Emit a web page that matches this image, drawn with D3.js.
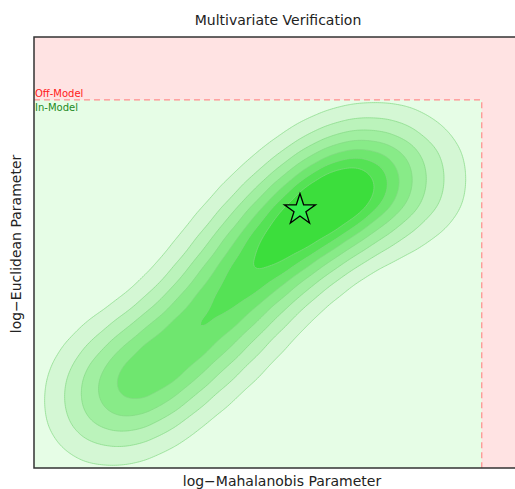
<!DOCTYPE html>
<html>
<head>
<meta charset="utf-8">
<script src="https://cdn.jsdelivr.net/npm/d3@7"></script>
<style>
  body { margin: 0; background: #fff; }
  text { font-family: "DejaVu Sans", Verdana, sans-serif; }
</style>
</head>
<body>
<svg id="chart" width="515" height="489"></svg>
<script>
// ridge samples: [logMahalanobis, logEuclidean, weight]
const ridgeX = [1.27, 1.68, 2.31, 2.93, 3.56, 4.07, 4.59, 5.11, 5.63, 6.15, 6.67, 7.19, 8.02];
const ridgeY = [1.35, 1.69, 2.16, 2.69, 3.32, 4.01, 4.71, 5.29, 5.80, 6.22, 6.57, 6.80, 6.68];
const ridgeW = [0.20, 0.75, 0.80, 0.80, 0.80, 0.85, 0.90, 0.95, 1.00, 1.00, 0.95, 0.80, 0.35];
const levelFractions = [0.07, 0.17, 0.29, 0.42, 0.55, 0.67, 0.79];
const limitX = 9.31, limitY = 8.54;   // in-model bounds
const starPoint = [5.53, 5.99];

const margin = { top: 37, left: 34 };
const width = 492, height = 431;   // right edge runs past the window

const svg = d3.select('#chart');
const g = svg.append('g').attr('transform', `translate(${margin.left},${margin.top})`);

const x = d3.scaleLinear().domain([0, 10.23]).range([0, width]);
const y = d3.scaleLinear().domain([0, 10]).range([height, 0]);

svg.append('defs').append('clipPath').attr('id', 'plot')
  .append('rect').attr('width', width).attr('height', height);

const plot = g.append('g').attr('clip-path', 'url(#plot)');

// off-model / in-model regions
plot.append('rect').attr('width', width).attr('height', height).attr('fill', '#ffe3e3');
plot.append('rect')
  .attr('x', 0).attr('y', y(limitY))
  .attr('width', x(limitX)).attr('height', height - y(limitY))
  .attr('fill', '#e6fde6');

// density contours
const pts = ridgeX.map((v, i) => [v, ridgeY[i], ridgeW[i]]);
const density = d3.contourDensity()
  .x(d => x(d[0])).y(d => y(d[1])).weight(d => d[2])
  .size([width, height]).cellSize(2).bandwidth(35);

const probe = density.thresholds(300)(pts);
const maxV = probe[probe.length - 1].value;
const contours = density.thresholds(levelFractions.map(f => f * maxV))(pts);

const color = d3.scaleLinear().domain([0, levelFractions.length - 1])
  .range(['#d4f7d4', '#3cde3c']).interpolate(d3.interpolateRgb);

plot.append('g').selectAll('path')
  .data(contours)
  .join('path')
    .attr('d', d3.geoPath())
    .attr('fill', (d, i) => color(i))
    .attr('stroke', '#82d882')
    .attr('stroke-width', 0.7);

// dashed boundary
plot.append('path')
  .attr('d', `M0,${y(limitY)}H${x(limitX)}V${height}`)
  .attr('fill', 'none')
  .attr('stroke', '#ff8c8c')
  .attr('stroke-width', 1.2)
  .attr('stroke-dasharray', '6,4');

// region labels
g.append('text').attr('x', 1).attr('y', y(limitY) - 2.5)
  .attr('font-size', 10).attr('fill', '#ff1a1a').text('Off-Model');
g.append('text').attr('x', 1).attr('y', y(limitY) + 11)
  .attr('font-size', 10).attr('fill', '#1d8a1d').text('In-Model');

// star at the verification point
g.append('path')
  .attr('d', d3.symbol(d3.symbolStar, 300)())
  .attr('transform', `translate(${x(starPoint[0])},${y(starPoint[1])})`)
  .attr('fill', '#35ee4f')
  .attr('stroke', '#000')
  .attr('stroke-width', 1.3);

// frame
g.append('path')
  .attr('d', `M${width},0H0V${height}H${width}`)
  .attr('fill', 'none').attr('stroke', '#333').attr('stroke-width', 1.5);

// titles
svg.append('text').attr('x', 278).attr('y', 25)
  .attr('text-anchor', 'middle').attr('font-size', 14).attr('fill', '#222')
  .text('Multivariate Verification');
svg.append('text').attr('x', 282).attr('y', 486)
  .attr('text-anchor', 'middle').attr('font-size', 14).attr('fill', '#222')
  .text('log\u2212Mahalanobis Parameter');
svg.append('text')
  .attr('transform', 'translate(21,244) rotate(-90)')
  .attr('text-anchor', 'middle').attr('font-size', 14).attr('fill', '#222')
  .text('log\u2212Euclidean Parameter');
</script>
</body>
</html>
